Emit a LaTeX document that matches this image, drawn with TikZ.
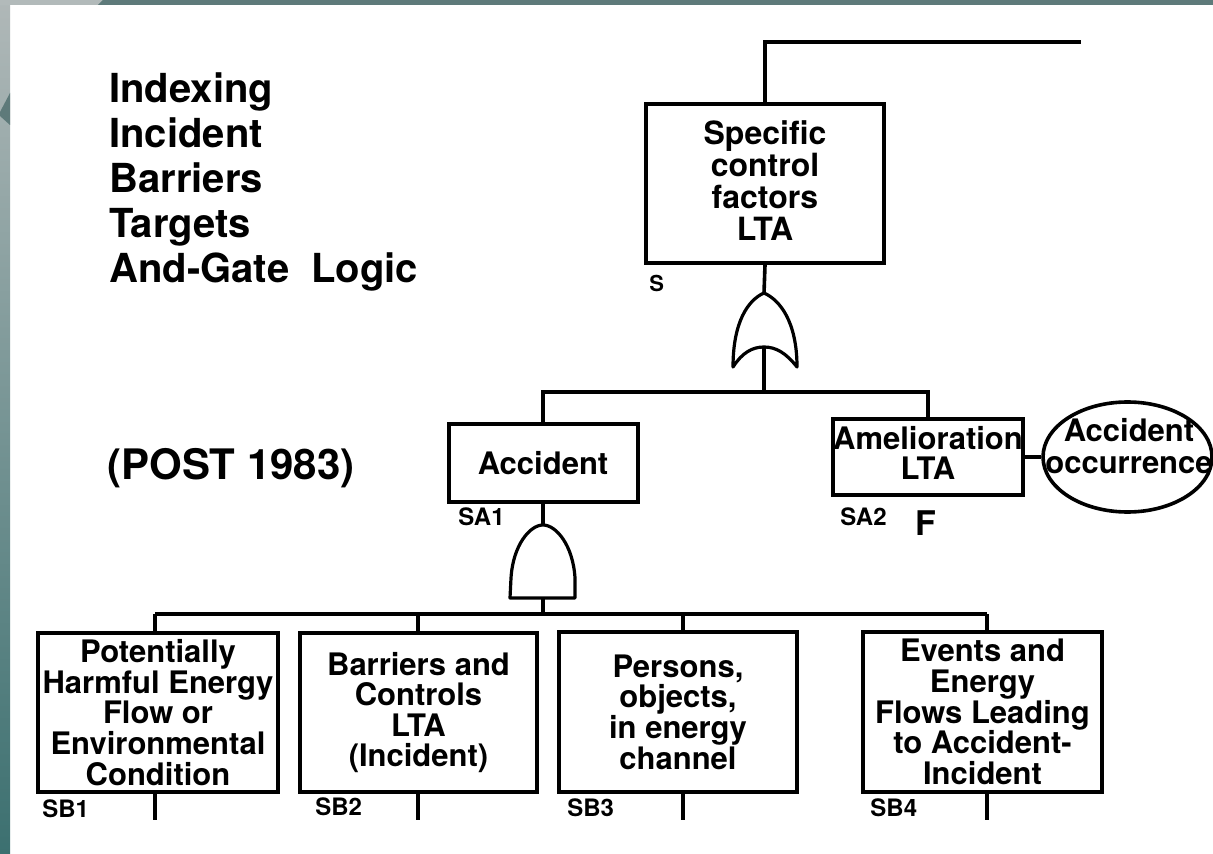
\documentclass[tikz,border=0pt]{standalone}
\usepackage{fontspec}
\setmainfont{TeX Gyre Heros}
\usetikzlibrary{calc,shapes.geometric}

\definecolor{slidegray}{HTML}{B2BABA}
\definecolor{slideteal}{HTML}{5E7A7A}
\definecolor{bartop}{HTML}{B0B8B8}
\definecolor{barbottom}{HTML}{3C7070}

\tikzset{
  ftbox/.style={draw, line width=2pt, inner sep=0pt, align=center,
    font=\fontsize{15.5}{15.3}\selectfont\bfseries},
  ftlabel/.style={anchor=west, inner sep=0pt, font=\fontsize{12}{12}\selectfont\bfseries},
  ftline/.style={line width=1.8pt},
  gate/.style={line width=1.6pt, fill=white, line join=round},
}

\begin{document}
\begin{tikzpicture}[x=0.5pt, y=-0.5pt]
  \useasboundingbox (0,0) rectangle (1213,854);
  \fill[white] (0,0) rectangle (1213,854);
  % slide frame
  \shade[top color=bartop, bottom color=barbottom] (0,0) rectangle (10,854);
  \fill[slideteal] (10,93) -- (0,112) -- (0,116) -- (10,125) -- cycle;
  \fill[slidegray] (0,0) rectangle (1213,5);
  \fill[slideteal] (103,0) -- (1213,0) -- (1213,5) -- (98,5) -- cycle;

  % left texts
  \node[anchor=north west, inner sep=0pt, align=left,
        font=\fontsize{20}{22.5}\selectfont\bfseries] (title) at (109,72)
        {Indexing\\Incident\\Barriers\\Targets\\And-Gate\ \ Logic};
  \node[anchor=west, inner sep=0pt, font=\fontsize{21}{21}\selectfont\bfseries]
        (post) at (107,468) {(POST 1983)};

  % top event
  \node[ftbox, minimum width=119pt, minimum height=79.5pt,
        font=\fontsize{16}{16}\selectfont\bfseries] (s) at (765,183.5)
        {Specific\\control\\factors\\LTA\rule[-3pt]{0pt}{0pt}};
  \node[ftlabel, font=\fontsize{11}{11}\selectfont\bfseries] (slab) at (649,283) {S};
  \coordinate (stop) at (1081,42);
  \draw[ftline] (s.north) |- (stop);

  % or gate
  \coordinate (ortop) at (764,293);
  \coordinate (orin) at (764,347);
  \coordinate (orbus) at (764,392);
  \draw[ftline] (s.south) -- (ortop);
  \draw[gate] (733,367) .. controls (733,322) and (748,300) .. (ortop)
    .. controls (780,300) and (797,322) .. (797,367)
    .. controls (786,353) and (776,347) .. (orin)
    .. controls (752,347) and (742,353) .. (733,367) -- cycle;
  \draw[ftline] (orin) -- (orbus);

  % second level
  \node[ftbox, minimum width=94.5pt, minimum height=39pt] (acc) at (543,463) {Accident};
  \node[ftlabel] (sa1) at (458,517) {SA1};
  \node[ftbox, minimum width=95pt, minimum height=38pt] (amel) at (928,457)
        {Amelioration\\LTA\rule[-4pt]{0pt}{0pt}};
  \node[ftlabel] (sa2) at (840,517) {SA2};
  \node[ftlabel, font=\fontsize{17}{17}\selectfont\bfseries] (flab) at (915,523) {F};
  \draw[ftline] (acc.north) -- (acc.north |- orbus) -| (amel.north);

  \node[draw, ellipse, line width=1.8pt, minimum width=84.5pt, minimum height=55pt,
        inner sep=0pt] (occ) at (1127.5,457) {};
  \node[inner sep=0pt, align=center, font=\fontsize{15.5}{15.8}\selectfont\bfseries]
        (occtext) at (1129,446) {Accident\\occurrence};
  \draw[ftline] (amel.east) -- (occ.west);

  % and gate
  \coordinate (andtop) at (543,525);
  \coordinate (andout) at (543,598);
  \coordinate (andbus) at (543,614);
  \draw[ftline] (acc.south) -- (andtop);
  \draw[gate] (andout) -- (510,598) -- (511,578)
    .. controls (513,545) and (530,525) .. (andtop)
    .. controls (556,525) and (573,545) .. (575,578)
    -- (575,598) -- cycle;
  \draw[ftline] (andout) -- (andbus);

  % third level
  \node[ftbox, minimum width=120pt, minimum height=79.5pt] (sb1) at (158,712.5)
        {Potentially\\Harmful Energy\\Flow or\\Environmental\\Condition};
  \node[ftbox, minimum width=118.5pt, minimum height=79.5pt] (sb2) at (418.5,712.5)
        {Barriers and\\Controls\\LTA\\(Incident)};
  \node[ftbox, minimum width=119pt, minimum height=80pt] (sb3) at (678,712)
        {Persons,\\objects,\\in energy\\channel};
  \node[ftbox, minimum width=119.5pt, minimum height=80pt] (sb4) at (982.5,712)
        {Events and\\Energy\\Flows Leading\\to Accident-\\Incident};
  \node[ftlabel] (sb1lab) at (42,809) {SB1};
  \node[ftlabel] (sb2lab) at (315,807) {SB2};
  \node[ftlabel] (sb3lab) at (567,808) {SB3};
  \node[ftlabel] (sb4lab) at (870,808) {SB4};

  \foreach \n/\x in {1/155, 2/418, 3/683, 4/987} {
    \coordinate (j\n) at (\x,614);
    \coordinate (e\n) at (\x,820);
  }
  \draw[ftline] (j1) -- (j4);
  \foreach \n in {1,...,4} {
    \draw[ftline] (j\n) -- (j\n |- sb\n.north);
    \draw[ftline] (j\n |- sb\n.south) -- (e\n);
  }
\end{tikzpicture}
\end{document}
